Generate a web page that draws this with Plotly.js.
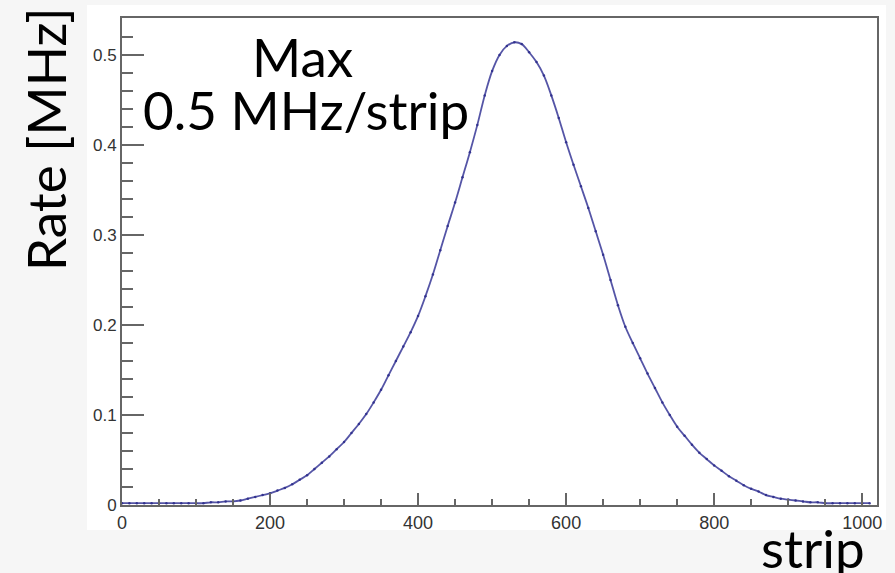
<!DOCTYPE html>
<html>
<head>
<meta charset="utf-8">
<script src="https://cdn.plot.ly/plotly-3.0.1.min.js"></script>
<style>
  html, body { margin: 0; padding: 0; background: #f6f6f6; }
  #chart { width: 895px; height: 573px; }
</style>
</head>
<body>
<div id="chart"></div>
<script>
// strip number
const strips = [
  0, 10, 20, 30, 40, 50, 60, 70, 80, 90,
  100, 110, 120, 130, 140, 150, 160, 170, 180, 190,
  200, 210, 220, 230, 240, 250, 260, 270, 280, 290,
  300, 310, 320, 330, 340, 350, 360, 370, 380, 390,
  400, 410, 420, 430, 440, 450, 460, 470, 480, 490,
  500, 510, 520, 530, 540, 550, 560, 570, 580, 590,
  600, 610, 620, 630, 640, 650, 660, 670, 680, 690,
  700, 710, 720, 730, 740, 750, 760, 770, 780, 790,
  800, 810, 820, 830, 840, 850, 860, 870, 880, 890,
  900, 910, 920, 930, 940, 950, 960, 970, 980, 990,
  1000, 1010
];
// rate per strip [MHz]
const rates = [
  0.002, 0.002, 0.002, 0.002, 0.002, 0.002, 0.002, 0.002, 0.002, 0.002,
  0.002, 0.002, 0.003, 0.003, 0.004, 0.004, 0.005, 0.007, 0.009, 0.011,
  0.013, 0.016, 0.019, 0.023, 0.028, 0.033, 0.040, 0.047, 0.054, 0.062,
  0.070, 0.080, 0.090, 0.101, 0.114, 0.128, 0.144, 0.160, 0.176, 0.192,
  0.210, 0.232, 0.256, 0.283, 0.310, 0.336, 0.364, 0.392, 0.422, 0.455,
  0.482, 0.500, 0.510, 0.514, 0.512, 0.503, 0.492, 0.477, 0.455, 0.430,
  0.403, 0.378, 0.354, 0.330, 0.304, 0.278, 0.250, 0.222, 0.198, 0.180,
  0.163, 0.146, 0.130, 0.114, 0.100, 0.087, 0.077, 0.067, 0.058, 0.051,
  0.044, 0.038, 0.032, 0.027, 0.022, 0.018, 0.015, 0.011, 0.009, 0.007,
  0.006, 0.005, 0.004, 0.003, 0.003, 0.002, 0.002, 0.002, 0.002, 0.002,
  0.002, 0.002
];
const xTickVals = [0, 200, 400, 600, 800, 1000];
const yTickVals = [0, 0.1, 0.2, 0.3, 0.4, 0.5];
const yTickText = ["0", "0.1", "0.2", "0.3", "0.4", "0.5"];

// plot area geometry (px)
const W = 895, H = 573, L = 122, R = 18, T = 18, B = 68;
const pw = W - L - R, ph = H - T - B;
const px = v => (v - L) / pw;
const py = v => (H - B - v) / ph;

const trace = {
  x: strips, y: rates, type: 'scatter', mode: 'lines+markers',
  line: { color: 'rgba(55,55,150,0.85)', width: 1.8, shape: 'spline' },
  marker: { color: 'rgba(45,45,140,0.9)', size: 2.5 },
  hoverinfo: 'x+y', showlegend: false
};

const axisCommon = {
  showgrid: false, zeroline: false, showline: true, mirror: true,
  linecolor: '#666', linewidth: 2, ticks: 'inside', tickcolor: '#666', tickwidth: 2
};

const bigFont = { family: 'Lato, sans-serif', size: 53, color: '#000' };

const layout = {
  width: W, height: H,
  margin: { l: L, r: R, t: T, b: B, pad: 0 },
  paper_bgcolor: '#f6f6f6', plot_bgcolor: '#ffffff',
  xaxis: Object.assign({}, axisCommon, {
    range: [0, 1020], tickmode: 'array', tickvals: xTickVals,
    ticklen: 12,
    minor: { dtick: 50, tick0: 0, ticks: 'inside', ticklen: 6, tickcolor: '#666', tickwidth: 2, showgrid: false },
    tickfont: { family: 'Liberation Sans, Arial, sans-serif', size: 18, color: '#333' }
  }),
  yaxis: Object.assign({}, axisCommon, {
    range: [0, 0.541], tickmode: 'array', tickvals: yTickVals, ticktext: yTickText,
    ticklen: 22,
    minor: { dtick: 0.02, tick0: 0, ticks: 'inside', ticklen: 11, tickcolor: '#666', tickwidth: 2, showgrid: false },
    tickfont: { family: 'Liberation Sans, Arial, sans-serif', size: 17, color: '#333' }
  }),
  shapes: [{
    type: 'rect', xref: 'paper', yref: 'paper', layer: 'below',
    x0: px(87), x1: px(886), y0: py(530), y1: py(5),
    fillcolor: '#ffffff', line: { width: 0 }
  }],
  annotations: [
    { text: 'Max', xref: 'paper', yref: 'paper', x: px(302), y: py(56),
      xanchor: 'center', yanchor: 'middle', showarrow: false, font: bigFont },
    { text: '0.5 MHz/strip', xref: 'paper', yref: 'paper', x: px(306), y: py(109),
      xanchor: 'center', yanchor: 'middle', showarrow: false, font: bigFont },
    { text: 'Rate [MHz]', xref: 'paper', yref: 'paper', x: px(45), y: py(139),
      xanchor: 'center', yanchor: 'middle', textangle: -90, showarrow: false, font: bigFont },
    { text: 'strip', xref: 'paper', yref: 'paper', x: px(813), y: py(547),
      xanchor: 'center', yanchor: 'middle', showarrow: false, font: bigFont }
  ]
};

Plotly.newPlot('chart', [trace], layout, { displayModeBar: false, staticPlot: true });
</script>
</body>
</html>
